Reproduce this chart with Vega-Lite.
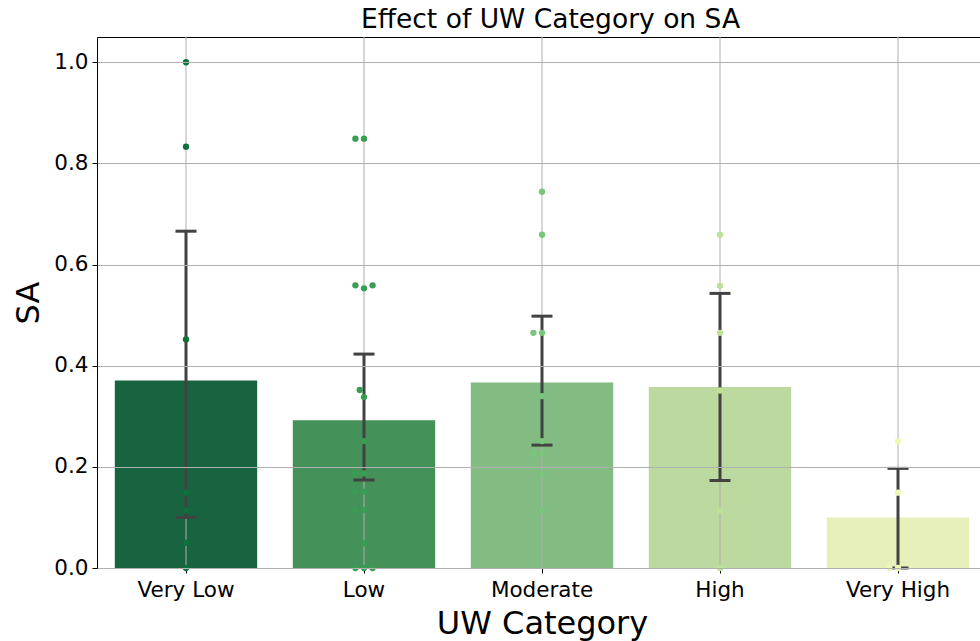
{
  "$schema": "https://vega.github.io/schema/vega-lite/v6.json",
  "autosize": {"type": "none"},
  "width": 883,
  "height": 531,
  "padding": {"left": 97, "top": 37, "right": 0, "bottom": 73},
  "background": "white",
  "config": {
    "font": "DejaVu Sans",
    "view": {"stroke": null},
    "axis": {
      "labelFont": "DejaVu Sans",
      "titleFont": "DejaVu Sans",
      "labelColor": "black",
      "titleColor": "black",
      "titleFontWeight": "normal",
      "tickColor": "black",
      "domainColor": "black",
      "gridColor": "#b0b0b0",
      "gridWidth": 1
    }
  },
  "title": {
    "text": "Effect of UW Category on SA",
    "font": "DejaVu Sans",
    "fontSize": 26.5,
    "fontWeight": "normal",
    "color": "black",
    "anchor": "middle",
    "dx": 12,
    "offset": 3
  },
  "datasets": {
    "summary": [
      {"category": "Very Low", "mean": 0.371, "lo": 0.100, "hi": 0.666},
      {"category": "Low", "mean": 0.292, "lo": 0.174, "hi": 0.423},
      {"category": "Moderate", "mean": 0.367, "lo": 0.243, "hi": 0.498},
      {"category": "High", "mean": 0.358, "lo": 0.173, "hi": 0.543},
      {"category": "Very High", "mean": 0.100, "lo": 0.0, "hi": 0.197}
    ],
    "obs": [
      {"category": "Very Low", "sa": 1.0, "slot": 0},
      {"category": "Very Low", "sa": 0.833, "slot": 0},
      {"category": "Very Low", "sa": 0.452, "slot": 0},
      {"category": "Very Low", "sa": 0.149, "slot": 0},
      {"category": "Very Low", "sa": 0.114, "slot": 0},
      {"category": "Very Low", "sa": 0.05, "slot": 0},
      {"category": "Very Low", "sa": 0.0, "slot": 0},
      {"category": "Low", "sa": 0.849, "slot": -1},
      {"category": "Low", "sa": 0.849, "slot": 0},
      {"category": "Low", "sa": 0.559, "slot": -1},
      {"category": "Low", "sa": 0.553, "slot": 0},
      {"category": "Low", "sa": 0.559, "slot": 1},
      {"category": "Low", "sa": 0.352, "slot": -0.5},
      {"category": "Low", "sa": 0.338, "slot": 0},
      {"category": "Low", "sa": 0.251, "slot": 0},
      {"category": "Low", "sa": 0.187, "slot": -1},
      {"category": "Low", "sa": 0.187, "slot": 0},
      {"category": "Low", "sa": 0.151, "slot": -1},
      {"category": "Low", "sa": 0.151, "slot": 0},
      {"category": "Low", "sa": 0.115, "slot": -1},
      {"category": "Low", "sa": 0.115, "slot": 0},
      {"category": "Low", "sa": 0.049, "slot": 0},
      {"category": "Low", "sa": 0.0, "slot": -1},
      {"category": "Low", "sa": 0.0, "slot": 0},
      {"category": "Low", "sa": 0.0, "slot": 1},
      {"category": "Moderate", "sa": 0.744, "slot": 0},
      {"category": "Moderate", "sa": 0.659, "slot": 0},
      {"category": "Moderate", "sa": 0.465, "slot": -1},
      {"category": "Moderate", "sa": 0.465, "slot": 0},
      {"category": "Moderate", "sa": 0.340, "slot": 0},
      {"category": "Moderate", "sa": 0.251, "slot": 0},
      {"category": "Moderate", "sa": 0.226, "slot": -1},
      {"category": "Moderate", "sa": 0.226, "slot": 0},
      {"category": "Moderate", "sa": 0.186, "slot": 0},
      {"category": "Moderate", "sa": 0.114, "slot": 0},
      {"category": "High", "sa": 0.659, "slot": 0},
      {"category": "High", "sa": 0.558, "slot": 0},
      {"category": "High", "sa": 0.465, "slot": 0},
      {"category": "High", "sa": 0.351, "slot": 0},
      {"category": "High", "sa": 0.114, "slot": 0},
      {"category": "High", "sa": 0.0, "slot": 0},
      {"category": "Very High", "sa": 0.251, "slot": 0},
      {"category": "Very High", "sa": 0.149, "slot": 0},
      {"category": "Very High", "sa": 0.0, "slot": -1},
      {"category": "Very High", "sa": 0.0, "slot": 0}
    ]
  },
  "layer": [
    {
      "data": {"name": "summary"},
      "mark": {"type": "bar", "width": {"band": 0.8}},
      "encoding": {
        "x": {
          "field": "category",
          "type": "nominal",
          "sort": ["Very Low", "Low", "Moderate", "High", "Very High"],
          "scale": {"range": [0, 890], "paddingInner": 0, "paddingOuter": 0},
          "axis": {
            "title": "UW Category",
            "titleFontSize": 32,
            "titlePadding": 8,
            "labelFontSize": 21.5,
            "labelAngle": 0,
            "labelPadding": 6,
            "tickSize": 5,
            "tickWidth": 1,
            "grid": false,
            "domain": true,
            "domainWidth": 1
          }
        },
        "y": {
          "field": "mean",
          "type": "quantitative",
          "scale": {"domain": [0, 1.05], "nice": false, "zero": true},
          "axis": {
            "title": "SA",
            "titleFontSize": 32,
            "titlePadding": 8,
            "values": [0, 0.2, 0.4, 0.6, 0.8, 1.0],
            "format": ".1f",
            "labelFontSize": 21.5,
            "labelPadding": 4,
            "tickSize": 5,
            "tickWidth": 1,
            "grid": true,
            "domain": true,
            "domainWidth": 1,
            "zindex": 1
          }
        },
        "color": {
          "field": "category",
          "type": "nominal",
          "scale": {
            "domain": ["Very Low", "Low", "Moderate", "High", "Very High"],
            "range": ["#196440", "#449159", "#82bc83", "#bcd99f", "#e7efbb"]
          },
          "legend": null
        }
      }
    },
    {
      "data": {"name": "summary"},
      "mark": {"type": "rule", "color": "#b0b0b0", "strokeWidth": 1},
      "encoding": {
        "x": {
          "field": "category",
          "type": "nominal",
          "sort": ["Very Low", "Low", "Moderate", "High", "Very High"],
          "axis": {
            "orient": "top",
            "labels": false,
            "ticks": false,
            "grid": false,
            "title": null,
            "domain": true,
            "domainWidth": 1
          }
        }
      }
    },
    {
      "data": {"name": "summary"},
      "mark": {"type": "rule", "color": "#424242", "strokeWidth": 3},
      "encoding": {
        "x": {"field": "category", "type": "nominal", "sort": ["Very Low", "Low", "Moderate", "High", "Very High"], "axis": null},
        "y": {"field": "lo", "type": "quantitative"},
        "y2": {"field": "hi"}
      }
    },
    {
      "data": {"name": "summary"},
      "mark": {"type": "tick", "color": "#424242", "size": 21, "thickness": 3, "opacity": 1},
      "encoding": {
        "x": {"field": "category", "type": "nominal", "sort": ["Very Low", "Low", "Moderate", "High", "Very High"], "axis": null},
        "y": {"field": "hi", "type": "quantitative"}
      }
    },
    {
      "data": {"name": "summary"},
      "mark": {"type": "tick", "color": "#424242", "size": 21, "thickness": 3, "opacity": 1},
      "encoding": {
        "x": {"field": "category", "type": "nominal", "sort": ["Very Low", "Low", "Moderate", "High", "Very High"], "axis": null},
        "y": {"field": "lo", "type": "quantitative"}
      }
    },
    {
      "data": {"name": "obs"},
      "mark": {"type": "circle", "size": 40, "opacity": 1},
      "encoding": {
        "x": {"field": "category", "type": "nominal", "sort": ["Very Low", "Low", "Moderate", "High", "Very High"], "axis": null},
        "xOffset": {"field": "slot", "type": "quantitative", "scale": {"domain": [-1, 1], "range": [80.4, 97.6]}},
        "y": {"field": "sa", "type": "quantitative"},
        "color": {
          "field": "category",
          "type": "nominal",
          "scale": {
            "domain": ["Very Low", "Low", "Moderate", "High", "Very High"],
            "range": ["#0c713b", "#379e54", "#78c679", "#bce395", "#edf8b2"]
          },
          "legend": null
        }
      }
    }
  ],
  "resolve": {"scale": {"color": "independent", "xOffset": "independent"}, "axis": {"x": "independent"}}
}
